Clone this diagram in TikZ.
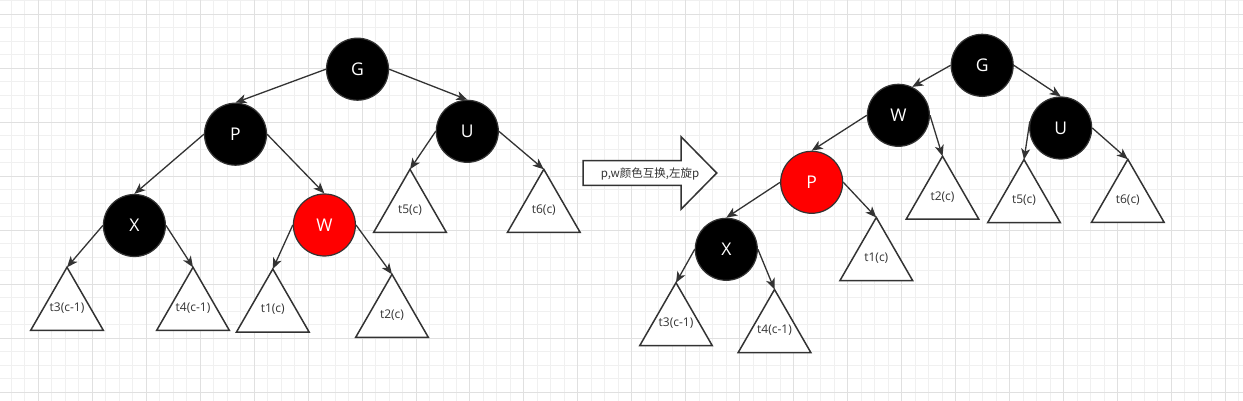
\documentclass[tikz,border=0pt]{standalone}
\usepackage{fontspec}
\setmainfont{Open Sans}
\newfontfamily\cjkfont{Noto Sans CJK SC}
\usetikzlibrary{arrows.meta}
\definecolor{edgec}{HTML}{333333}
\definecolor{minorg}{HTML}{F0F0F0}
\definecolor{majorg}{HTML}{E0E0E0}
\definecolor{rednode}{HTML}{FF0000}
\begin{document}
\begin{tikzpicture}[x=1pt,y=-1pt,
  rb/.style={circle, minimum size=62pt, inner sep=0pt, line width=1.2pt, draw=edgec, text=white, font=\fontsize{17.5}{17.5}\selectfont},
  blk/.style={rb, fill=black},
  rnode/.style={rb, fill=rednode},
  link/.style={draw=edgec, line width=1.3pt, -{Stealth[length=11pt,width=9pt,inset=3pt]}},
  tri/.style={draw=edgec, line width=1.5pt, fill=white, line join=miter},
  tlab/.style={text=edgec, font=\fontsize{12}{12}\selectfont, inner sep=0pt},
  gminor/.style={draw=minorg, line width=1pt},
  gmajor/.style={draw=majorg, line width=1pt},
]
\useasboundingbox (0,0) rectangle (1243,401);
\fill[white] (0,0) rectangle (1243,401);
% grid
\foreach \k in {-2,...,89}{
  \pgfmathsetmacro{\gx}{38.3+13.49*\k}
  \draw[gminor] (\gx,0) -- (\gx,401);
}
\foreach \k in {-1,...,28}{
  \pgfmathsetmacro{\gy}{14.3+13.49*\k}
  \draw[gminor] (0,\gy) -- (1243,\gy);
}
\foreach \k in {0,...,22}{
  \pgfmathsetmacro{\gx}{38.3+53.96*\k}
  \draw[gmajor] (\gx,0) -- (\gx,401);
}
\foreach \k in {0,...,7}{
  \pgfmathsetmacro{\gy}{14.3+53.96*\k}
  \draw[gmajor] (0,\gy) -- (1243,\gy);
}

% ---------- left tree ----------
\node[blk] (G1) at (357.5,69.2) {G};
\node[blk] (P1) at (235.5,134.2) {P};
\node[blk] (U1) at (467.3,131.3) {U};
\node[blk] (X1) at (134.4,225.5) {X};
\node[rnode] (W1) at (324.4,225) {W};

\coordinate (t3a) at (67,267.3);
\coordinate (t4a) at (193,267.3);
\coordinate (t1a) at (272.8,269);
\coordinate (t2a) at (392,274.3);
\coordinate (t5a) at (410,169.3);
\coordinate (t6a) at (543.8,169.3);
\foreach \t in {t3a,t4a,t1a,t2a,t5a,t6a}{
  \draw[tri] (\t) -- ++(36.3,63) -- ++(-72.6,0) -- cycle;
}
\node[tlab] (l3a) at ([yshift=-40.5pt]t3a) {t3(c-1)};
\node[tlab] (l4a) at ([yshift=-40.5pt]t4a) {t4(c-1)};
\node[tlab] (l1a) at ([yshift=-40.5pt]t1a) {t1(c)};
\node[tlab] (l2a) at ([yshift=-40.5pt]t2a) {t2(c)};
\node[tlab] (l5a) at ([yshift=-40.5pt]t5a) {t5(c)};
\node[tlab] (l6a) at ([yshift=-40.5pt]t6a) {t6(c)};

\draw[link] (G1.west) -- (P1.north);
\draw[link] (G1.east) -- (U1.north);
\draw[link] (P1.west) -- (X1.north);
\draw[link] (P1.east) -- (W1.north);
\draw[link] (X1.west) -- (t3a);
\draw[link] (X1.east) -- (t4a);
\draw[link] (W1.west) -- (t1a);
\draw[link] (W1.east) -- (t2a);
\draw[link] (U1.west) -- (t5a);
\draw[link] (U1.east) -- (t6a);

% ---------- arrow ----------
\draw[draw=edgec, line width=1.5pt, fill=white, line join=miter]
  (583,160.7) -- (681,160.7) -- (681,136.7) -- (716.7,173) -- (681,209.3) -- (681,185.3) -- (583,185.3) -- cycle;
\node[text=edgec, inner sep=0pt, font=\cjkfont\fontsize{11.5}{11.5}\selectfont] (arrowlab) at (650,173.5) {p,w颜色互换,左旋p};

% ---------- right tree ----------
\node[blk] (G2) at (982.2,65.3) {G};
\node[blk] (W2) at (898.4,115.3) {W};
\node[blk] (U2) at (1060.7,128) {U};
\node[rnode] (P2) at (811.7,182.3) {P};
\node[blk] (X2) at (726.3,249.3) {X};

\coordinate (t2b) at (942.5,156.2);
\coordinate (t5b) at (1024,159.6);
\coordinate (t6b) at (1127.8,159.3);
\coordinate (t1b) at (876.3,217.5);
\coordinate (t3b) at (676,282.7);
\coordinate (t4b) at (774.5,289.5);
\foreach \t in {t2b,t5b,t6b,t1b,t3b,t4b}{
  \draw[tri] (\t) -- ++(36.3,63) -- ++(-72.6,0) -- cycle;
}
\node[tlab] (l2b) at ([yshift=-40.5pt]t2b) {t2(c)};
\node[tlab] (l5b) at ([yshift=-40.5pt]t5b) {t5(c)};
\node[tlab] (l6b) at ([yshift=-40.5pt]t6b) {t6(c)};
\node[tlab] (l1b) at ([yshift=-40.5pt]t1b) {t1(c)};
\node[tlab] (l3b) at ([yshift=-40.5pt]t3b) {t3(c-1)};
\node[tlab] (l4b) at ([yshift=-40.5pt]t4b) {t4(c-1)};

\draw[link] (G2.west) -- (W2.64);
\draw[link] (G2.east) -- (U2.north);
\draw[link] (W2.west) -- (P2.north);
\draw[link] (W2.east) -- (t2b);
\draw[link] (P2.west) -- (X2.north);
\draw[link] (P2.east) -- (t1b);
\draw[link] (X2.west) -- (t3b);
\draw[link] (X2.east) -- (t4b);
\draw[link] (U2.168) -- (t5b);
\draw[link] (U2.east) -- (t6b);
\end{tikzpicture}
\end{document}
